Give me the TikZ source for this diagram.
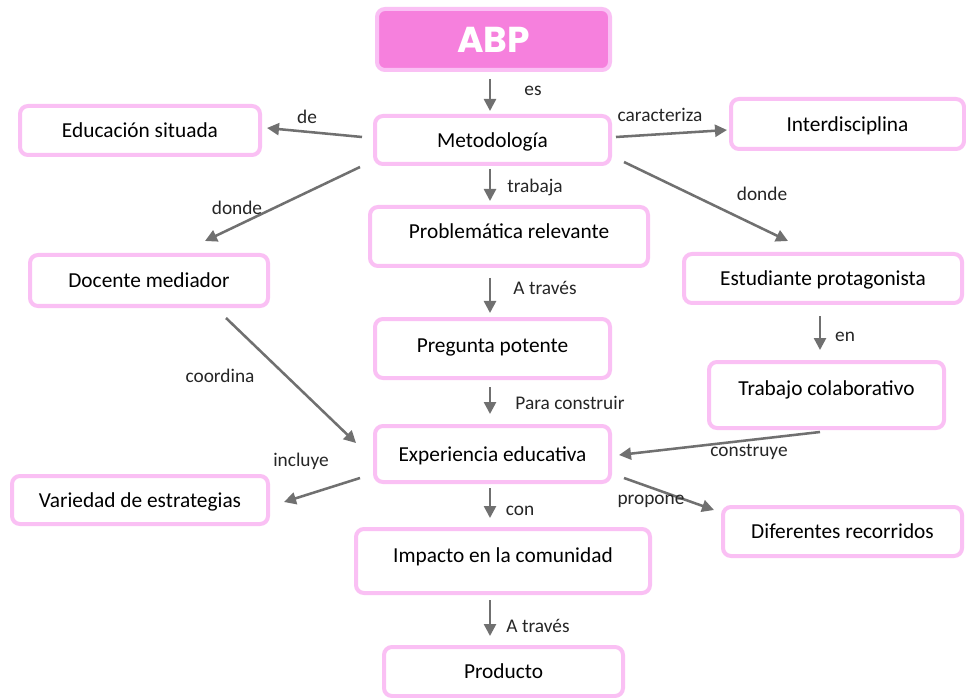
\documentclass[tikz,border=0pt]{standalone}
\usepackage{fontspec}
\setmainfont{Carlito}
\newfontfamily\abpfont{Poppins}[UprightFont=* Bold]
\usetikzlibrary{arrows.meta,calc}
\definecolor{pinkborder}{RGB}{250,192,244}
\definecolor{abpfill}{RGB}{246,128,221}
\definecolor{arrowgray}{RGB}{112,112,112}
\tikzset{
  x=0.75pt,y=-0.75pt,
  box/.style={draw=pinkborder,line width=3pt,rounded corners=6pt,fill=white,
    font=\fontsize{16}{19}\selectfont,inner sep=0pt,align=center,
    text height=15pt,text depth=4pt},
  tup/.style={text depth=#1},
  bw/.style={minimum width=#1*0.75pt},
  bh/.style={minimum height=#1*0.75pt},
  lbl/.style={font=\fontsize{14.5}{17}\selectfont,inner sep=0pt,text=black!85},
  conn/.style={draw=arrowgray,line width=1.9pt,-{Triangle[length=9pt,width=9pt]}},
}
\begin{document}
\begin{tikzpicture}
\useasboundingbox[fill=white] (0,0) rectangle (966,698);
% boxes
\node[box,fill=abpfill,bw=233,bh=61,font=\abpfont\fontsize{27}{30}\selectfont,text=white,text height=19pt,text depth=0pt] (abp) at (493.5,39.5) {ABP};
\node[box,bw=235,bh=48] (met) at (492.5,140) {Metodología};
\node[box,bw=240,bh=49] (edu) at (140,130.5) {Educación situada};
\node[box,bw=233,bh=50] (int) at (847.5,124) {Interdisciplina};
\node[box,bw=278,bh=59,tup=11.5pt] (prob) at (509,236.5) {Problemática relevante};
\node[box,bw=238,bh=51] (doc) at (149,280.5) {Docente mediador};
\node[box,bw=278,bh=49] (est) at (823,278.5) {Estudiante protagonista};
\node[box,bw=235,bh=59,tup=8.5pt] (preg) at (492.5,348.5) {Pregunta potente};
\node[box,bw=235,bh=66,tup=14.5pt] (trab) at (826.5,395) {Trabajo colaborativo};
\node[box,bw=235,bh=56] (exp) at (492.5,454) {Experiencia educativa};
\node[box,bw=256,bh=48] (var) at (140,500) {Variedad de estrategias};
\node[box,bw=239,bh=49] (dif) at (842.5,531.5) {Diferentes recorridos};
\node[box,bw=294,bh=64,tup=13pt] (imp) at (503,561) {Impacto en la comunidad};
\node[box,bw=239,bh=49] (prod) at (503.5,671.5) {Producto};
% connectors
\draw[conn] ($(abp.south)+(-3.5,7)$) -- ($(met.north)+(-2.5,-3)$);
\draw[conn] ($(met.west)+(-11,-3)$) -- ($(edu.east)+(5,-2.5)$);
\draw[conn] ($(met.east)+(4,-3)$) -- ($(int.west)+(-2,6)$);
\draw[conn] ($(met.south west)+(-13,1)$) -- ($(doc.north)+(56,-12)$);
\draw[conn] ($(met.south)+(-2.5,3)$) -- ($(prob.north)+(-19,-4)$);
\draw[conn] ($(met.south east)+(12,-4)$) -- ($(est.north)+(-35,-11)$);
\draw[conn] ($(prob.south)+(-19,10)$) -- ($(preg.north)+(-2.5,-4)$);
\draw[conn] ($(est.south)+(-3,11)$) -- ($(trab.north)+(-6.5,-10)$);
\draw[conn] ($(preg.south)+(-2.5,7)$) -- ($(exp.north)+(-2.5,-10)$);
\draw[conn] ($(doc.south)+(77,10)$) -- ($(exp.west)+(-17,-11)$);
\draw[conn] ($(trab.south)+(-6.5,2)$) -- ($(exp.east)+(7,1)$);
\draw[conn] ($(exp.south west)+(-13,-6)$) -- ($(var.east)+(14,2)$);
\draw[conn] ($(exp.south)+(-2.5,4)$) -- ($(imp.north)+(-13,-9)$);
\draw[conn] ($(exp.south east)+(12,-6)$) -- ($(dif.west)+(-7,-21.5)$);
\draw[conn] ($(imp.south)+(-13,5)$) -- ($(prod.north)+(-13.5,-9)$);
% labels
\node[lbl] (l1) at (533,91) {es};
\node[lbl] (l2) at (307,117) {de};
\node[lbl] (l3) at (660,115) {caracteriza};
\node[lbl] (l4) at (237,208) {donde};
\node[lbl] (l5) at (535,187) {trabaja};
\node[lbl] (l6) at (762,194) {donde};
\node[lbl] (l7) at (545,288) {A través};
\node[lbl] (l8) at (845,337) {en};
\node[lbl] (l9) at (570,403) {Para construir};
\node[lbl] (l10) at (220,376) {coordina};
\node[lbl] (l11) at (749,452) {construye};
\node[lbl] (l12) at (301,461) {incluye};
\node[lbl] (l13) at (520,511) {con};
\node[lbl] (l14) at (651,501) {propone};
\node[lbl] (l15) at (538,626) {A través};
\end{tikzpicture}
\end{document}
